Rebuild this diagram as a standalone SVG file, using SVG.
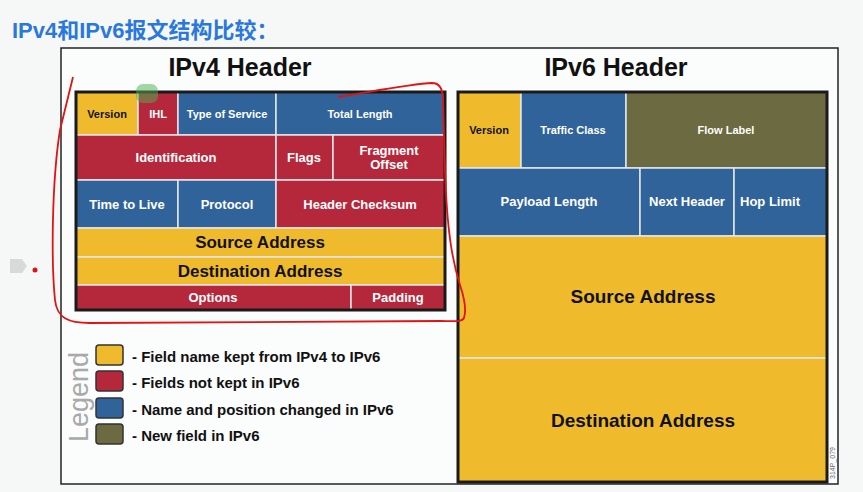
<svg xmlns="http://www.w3.org/2000/svg" width="863" height="492" viewBox="0 0 863 492">
<style>
text{font-family:"Liberation Sans",Arial,sans-serif;font-weight:bold;text-anchor:middle}
.y{fill:#efbb2d}.r{fill:#b5283b}.b{fill:#30639a}.o{fill:#6b6a40}
.cell{stroke:#e4e6ea;stroke-width:1.5}
.w{fill:#ffffff}.k{fill:#111111}
.s11{font-size:11px}.s13{font-size:13px}.s17{font-size:17px}.s19{font-size:19px}
.leg{font-size:15px;text-anchor:start;fill:#111}
.sw{stroke:#333;stroke-width:1.5}
</style>
<rect x="0" y="0" width="863" height="492" fill="#f6f8f8"/>
<text x="12" y="38" style="font-family:'Liberation Sans','Noto Sans CJK SC',sans-serif;font-size:22px;text-anchor:start;fill:#2a78dc">IPv4和IPv6报文结构比较：</text>
<rect id="frame" x="61" y="48" width="777" height="436" fill="#fbfcfc" stroke="#222" stroke-width="1.5"/>
<text x="240" y="76" style="font-size:25px" class="k">IPv4 Header</text>
<text x="616" y="76" style="font-size:25px" class="k">IPv6 Header</text>

<g id="ipv4">
<rect class="cell y" x="76" y="92" width="62" height="43"/>
<rect class="cell r" x="138" y="92" width="40" height="43"/>
<rect class="cell b" x="178" y="92" width="98" height="43"/>
<rect class="cell b" x="276" y="92" width="169" height="43"/>
<rect class="cell r" x="76" y="135" width="200" height="45"/>
<rect class="cell r" x="276" y="135" width="57" height="45"/>
<rect class="cell r" x="333" y="135" width="112" height="45"/>
<rect class="cell b" x="76" y="180" width="102" height="48"/>
<rect class="cell b" x="178" y="180" width="98" height="48"/>
<rect class="cell r" x="276" y="180" width="169" height="48"/>
<rect class="cell y" x="76" y="228" width="369" height="29"/>
<rect class="cell y" x="76" y="257" width="369" height="28"/>
<rect class="cell r" x="76" y="285" width="275" height="25"/>
<rect class="cell r" x="351" y="285" width="94" height="25"/>
<rect x="76" y="92" width="369" height="218" fill="none" stroke="#1a1a1a" stroke-width="3"/>
<text class="s11 k" x="107" y="118">Version</text>
<text class="s11 w" x="158" y="118">IHL</text>
<text class="s11 w" x="227" y="118">Type of Service</text>
<text class="s11 w" x="360" y="118">Total Length</text>
<text class="s13 w" x="176" y="162">Identification</text>
<text class="s13 w" x="304" y="162">Flags</text>
<text class="s13 w" x="389" y="155">Fragment</text>
<text class="s13 w" x="389" y="169">Offset</text>
<text class="s13 w" x="127" y="209">Time to Live</text>
<text class="s13 w" x="227" y="209">Protocol</text>
<text class="s13 w" x="360" y="209">Header Checksum</text>
<text class="s17 k" x="260" y="248">Source Address</text>
<text class="s17 k" x="260" y="277">Destination Address</text>
<text class="s13 w" x="213" y="302">Options</text>
<text class="s13 w" x="398" y="302">Padding</text>
</g>

<g id="ipv6">
<rect class="cell y" x="458" y="92" width="63" height="76"/>
<rect class="cell b" x="521" y="92" width="105" height="76"/>
<rect class="cell o" x="626" y="92" width="201" height="76"/>
<rect class="cell b" x="458" y="168" width="182" height="68"/>
<rect class="cell b" x="640" y="168" width="94" height="68"/>
<rect class="cell b" x="734" y="168" width="93" height="68"/>
<rect class="cell y" x="458" y="236" width="369" height="122"/>
<rect class="cell y" x="458" y="358" width="369" height="124"/>
<rect x="458" y="92" width="369" height="390" fill="none" stroke="#1a1a1a" stroke-width="3"/>
<text class="s11 k" x="489" y="134">Version</text>
<text class="s11 w" x="573" y="134">Traffic Class</text>
<text class="s11 w" x="726" y="134">Flow Label</text>
<text class="s13 w" x="549" y="206">Payload Length</text>
<text class="s13 w" x="687" y="206">Next Header</text>
<text class="s13 w" x="770" y="206">Hop Limit</text>
<text class="s19 k" x="643" y="303">Source Address</text>
<text class="s19 k" x="643" y="427">Destination Address</text>
</g>
<text x="0" y="0" transform="translate(835,479) rotate(-90)" style="font-size:7px;font-weight:normal;text-anchor:start;fill:#666">314P_079</text>

<g id="legend">
<text x="0" y="0" transform="translate(88,442) rotate(-90)" style="font-size:27px;font-weight:normal;text-anchor:start;fill:#a9a9a9">Legend</text>
<rect class="sw y" x="96" y="345" width="27" height="20" rx="3"/>
<rect class="sw r" x="96" y="371" width="27" height="20" rx="3"/>
<rect class="sw b" x="96" y="398" width="27" height="20" rx="3"/>
<rect class="sw o" x="96" y="424" width="27" height="20" rx="3"/>
<text class="leg" x="132" y="362">- Field name kept from IPv4 to IPv6</text>
<text class="leg" x="132" y="388">- Fields not kept in IPv6</text>
<text class="leg" x="132" y="415">- Name and position changed in IPv6</text>
<text class="leg" x="132" y="441">- New field in IPv6</text>
</g>

<g id="annotations">
<rect x="136" y="84" width="22" height="19" rx="7" fill="#4caf50" opacity="0.5"/>
<path d="M338 97 C370 92 410 84 432 83 C440 83 443 90 443 100 L445 170 C447 230 452 260 460 285 C465 300 466 312 464 318 C462 322 455 321 440 321 L90 323 C68 323 57 318 55 300 C51 260 52 180 60 130 L73 77" fill="none" stroke="#e01414" stroke-width="1.8"/>
<polygon points="10,259 22,259 27,266 22,273 10,273" fill="#d9d9d9"/>
<circle cx="35" cy="270" r="2.5" fill="#e01414"/>
</g>
</svg>
